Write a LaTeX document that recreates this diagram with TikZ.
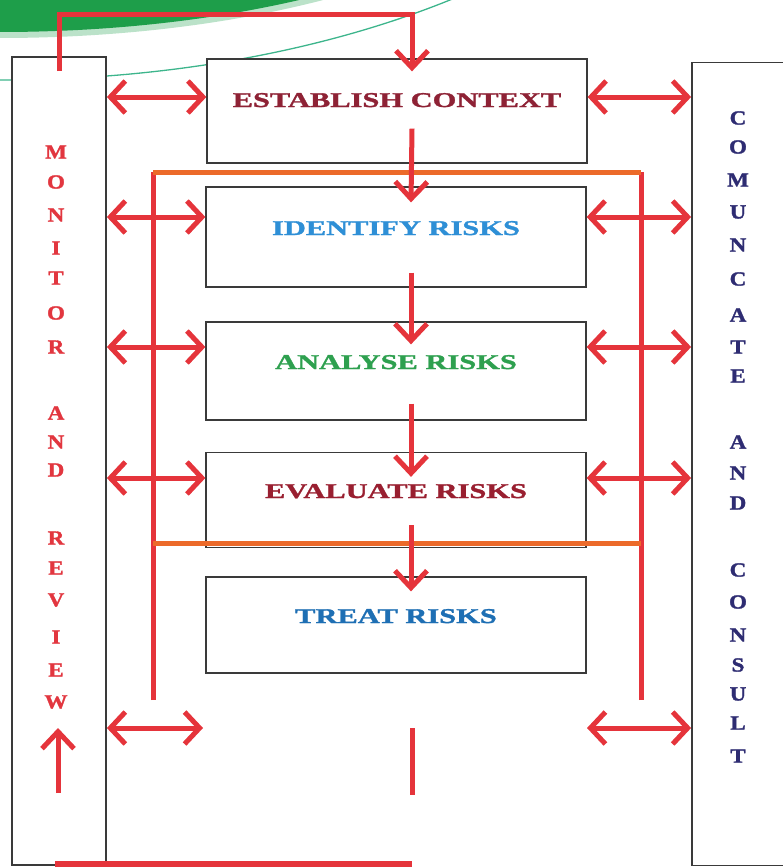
\documentclass[tikz,border=0pt]{standalone}
\usepackage{fontspec}
\setmainfont{Liberation Serif}
\newfontfamily\wideserif{Liberation Serif}[FakeStretch=1.45,BoldFeatures={FakeBold=1.5}]
\newfontfamily\heavyserif{Liberation Serif}[FakeStretch=1.15,BoldFeatures={FakeBold=1.5}]
\usetikzlibrary{arrows.meta,positioning,calc}
\definecolor{arrowred}{HTML}{E5343B}
\definecolor{frameorange}{HTML}{EC6A2A}
\definecolor{boxgray}{HTML}{3A3A3A}
\definecolor{leafgreen}{HTML}{1E9E4A}
\definecolor{curvegreen}{HTML}{3DB58C}
\definecolor{crimson}{HTML}{8E2235}
\definecolor{skyblue}{HTML}{2E8FD6}
\definecolor{grassgreen}{HTML}{2EA04F}
\definecolor{deepblue}{HTML}{1E6FB4}
\definecolor{monred}{HTML}{E2363F}
\definecolor{navy}{HTML}{2E2C72}

\begin{document}
\begin{tikzpicture}[x=1pt,y=-1pt,
  panel/.style={draw=boxgray,line width=1.8pt,fill=white},
  riskbox/.style={draw=boxgray,line width=1.3pt,fill=white,minimum width=380pt,
    font=\wideserif\bfseries\fontsize{21}{21}\selectfont,text height=14pt,text depth=18pt},
  letter/.style={font=\heavyserif\bfseries\fontsize{20}{20}\selectfont,inner sep=0pt},
  twoway/.style={{Straight Barb[length=15pt,width=32pt]}-{Straight Barb[length=15pt,width=32pt]},
    line width=5pt,arrowred},
  oneway/.style={-{Straight Barb[length=17pt,width=32pt]},line width=5pt,arrowred},
  frameline/.style={line width=5pt,arrowred}]
\useasboundingbox (0,0) rectangle (783,867);
% leaf in the corner
\begin{scope}
  \clip (0,0) rectangle (783,867);
  \fill[leafgreen!30] (0,-200) ellipse [x radius=596,y radius=238];
  \fill[leafgreen] (0,-200) ellipse [x radius=590,y radius=232];
  \draw[curvegreen,line width=1.3pt] (0,-300) ellipse [x radius=733,y radius=380];
\end{scope}
% side panels
\node[panel,minimum width=94pt,minimum height=808pt] (monitor) at (59,461) {};
\node[panel,minimum width=108pt,minimum height=803pt] (consult) at (746,464) {};
% process steps
\node[riskbox,minimum height=104pt,text=crimson,text depth=22pt] (establish) at (397,111) {ESTABLISH CONTEXT};
\node[riskbox,minimum height=100pt,text=skyblue] (identify) at (396,237) {IDENTIFY RISKS};
\node[riskbox,minimum height=98pt,text=grassgreen] (analyse) at (396,371) {ANALYSE RISKS};
\node[riskbox,minimum height=95pt,text=crimson!90!red] (evaluate) at (396,500) {EVALUATE RISKS};
\node[riskbox,minimum height=96pt,text=deepblue] (treat) at (396,625) {TREAT RISKS};
% side captions
\foreach \c/\y [count=\i] in {M/152,O/182,N/215,I/248,T/278,O/313,R/347,A/413,N/442,D/470,
    R/538,E/568,V/600,I/637,E/670,W/702}
  \node[letter,text=monred] (mon\i) at (56,\y) {\c};
\foreach \c/\y [count=\i] in {C/118,O/147,M/180,U/212,N/245,C/279,A/315,T/347,E/376,
    A/442,N/473,D/503,C/570,O/602,N/635,S/665,U/694,L/723,T/756}
  \node[letter,text=navy] (con\i) at (738,\y) {\c};
% frame round the inner steps
\coordinate (ftl) at (153,172);
\coordinate (ftr) at (641,172);
\coordinate (fbl) at (153,700);
\coordinate (fbr) at (641,700);
\draw[frameline] (fbl) -- (ftl);
\draw[frameline] (fbr) -- (ftr);
\draw[line width=5pt,frameorange] (ftl) -- (ftr);
\draw[line width=5pt,frameorange] (ftl |- 0,543) -- (ftr |- 0,543);
% loop over the top
\coordinate (loopstart) at ([yshift=-15pt]monitor.north);
\coordinate (looptip) at ([xshift=15pt,yshift=-13pt]establish.north);
\draw[oneway] (loopstart) |- (looptip |- 0,15) -- (looptip);
% steps down
\foreach \a/\b/\s/\t in {establish/identify/35/16,identify/analyse/15/23,
    analyse/evaluate/17/25,evaluate/treat/23/15}
  \draw[oneway] ([xshift=15pt,yshift=\s pt]\a.south) -- ([xshift=15pt,yshift=-\t pt]\b.north);
% two-way links to the panels
\foreach \b/\dy in {establish/14,identify/20,analyse/24,evaluate/22} {
  \coordinate (l\b) at ([yshift=\dy pt]\b.west);
  \coordinate (r\b) at ([yshift=\dy pt]\b.east);
  \draw[twoway] (monitor.east |- l\b) -- (l\b);
  \draw[twoway] (r\b) -- (consult.west |- r\b);
}
\coordinate (lfree) at (203,728);
\coordinate (rfree) at (587,728);
\draw[twoway] (monitor.east |- lfree) -- (lfree);
\draw[twoway] (rfree) -- (consult.west |- rfree);
% tail at the bottom
\coordinate (tailtop) at (412,728);
\coordinate (tailend) at (412,795);
\draw[frameline] (tailtop) -- (tailend);
\draw[line width=6pt,arrowred] (55,864) -- (tailend |- 0,864);
\coordinate (upfrom) at (58,793);
\coordinate (upto) at (58,728);
\draw[oneway] (upfrom) -- (upto);
\end{tikzpicture}
\end{document}
